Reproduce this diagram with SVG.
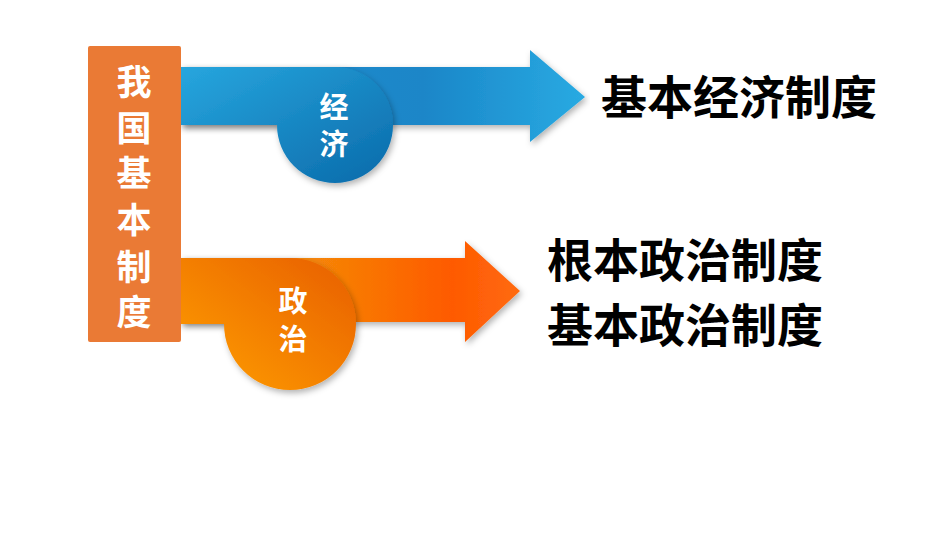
<svg xmlns="http://www.w3.org/2000/svg" width="950" height="535" viewBox="0 0 950 535">
<style>
text{font-family:"Noto Sans CJK SC","Liberation Sans",sans-serif;font-weight:bold;text-anchor:middle}
.w{fill:#fff}.k{fill:#000}
</style>
<defs>
<linearGradient id="bs" x1="0" x2="1"><stop offset="0" stop-color="#1e8fcf"/><stop offset="0.6" stop-color="#1a86c8"/><stop offset="1" stop-color="#29aae2"/></linearGradient>
<linearGradient id="bc" x1="0" y1="0" x2="1" y2="1"><stop offset="0" stop-color="#27a6de"/><stop offset="1" stop-color="#0a6aaa"/></linearGradient>
<linearGradient id="os" x1="0" x2="1"><stop offset="0" stop-color="#ef7010"/><stop offset="0.35" stop-color="#f58a08"/><stop offset="0.8" stop-color="#fe5a00"/><stop offset="1" stop-color="#ff6a10"/></linearGradient>
<linearGradient id="oc" x1="0" y1="1" x2="1" y2="0"><stop offset="0" stop-color="#ffa000"/><stop offset="1" stop-color="#e85e00"/></linearGradient>
<filter id="sh" x="-10%" y="-10%" width="130%" height="140%"><feDropShadow dx="2" dy="3" stdDeviation="3" flood-opacity="0.3"/></filter>
</defs>
<rect width="950" height="535" fill="#fff"/>
<g id="connectors">
<path d="M181,67 H530 V50 L585,97 L530,142 V125 H181 Z" fill="url(#bs)" filter="url(#sh)"/>
<path d="M181,67 H335 A58 58 0 1 1 277,125 H181 Z" fill="url(#bc)" filter="url(#sh)"/>
<path d="M181,258 H465 V241 L520,291 L465,342 V322 H181 Z" fill="url(#os)" filter="url(#sh)"/>
<path d="M181,258 H290 A66 66 0 1 1 224,324 H181 Z" fill="url(#oc)" filter="url(#sh)"/>
</g>
<g id="root">
<rect x="88" y="46" width="93" height="296" rx="2" fill="#ea7a35"/>
<text class="w" font-size="35" x="134" y="95">我</text>
<text class="w" font-size="35" x="134" y="141">国</text>
<text class="w" font-size="35" x="134" y="186">基</text>
<text class="w" font-size="35" x="134" y="233">本</text>
<text class="w" font-size="35" x="134" y="280">制</text>
<text class="w" font-size="35" x="134" y="325">度</text>
</g>
<g id="econ"><text class="w" font-size="29" x="334" y="118">经</text><text class="w" font-size="29" x="334" y="155">济</text></g>
<g id="poli"><text class="w" font-size="29" x="293" y="312">政</text><text class="w" font-size="29" x="293" y="350">治</text></g>
<g id="econ-label"><rect x="590" y="68" width="295" height="58" fill="#fff"/><text class="k" font-size="46" x="739" y="114">基本经济制度</text></g>
<g id="poli-label"><rect x="535" y="228" width="300" height="126" fill="#fff"/><text class="k" font-size="46" x="685" y="277">根本政治制度</text><text class="k" font-size="46" x="685" y="342">基本政治制度</text></g>
</svg>
